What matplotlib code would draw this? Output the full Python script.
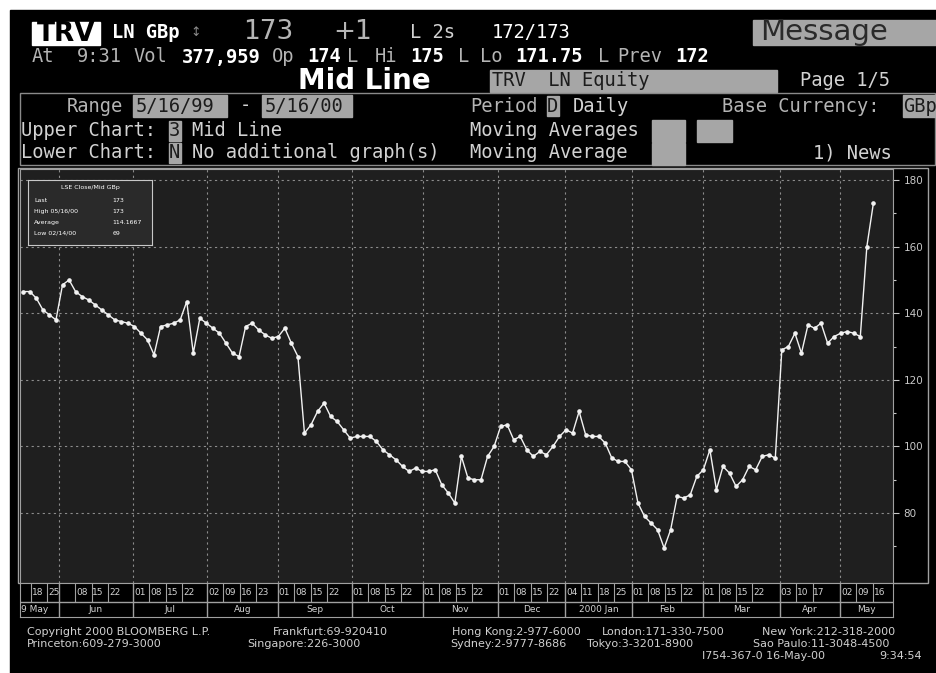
import numpy as np
import matplotlib
matplotlib.use('Agg')
import matplotlib.pyplot as plt
from matplotlib.patches import Rectangle

# TRV LN mid price (GBp), read every second trading day, 17-May-99 .. 16-May-00
trade_day = np.arange(1, 262, 2)
mid_price = [
    146.5, 146.5, 144.5, 141, 139.5, 138, 148.5, 150, 146.5, 145,
    144, 142.5, 141, 139.5, 138, 137.5, 137, 136, 134, 132,
    127.5, 136, 136.5, 137, 138, 143.5, 128, 138.5, 137, 135.5,
    134, 131, 128, 127, 136, 137, 135, 133.5, 132.5, 133,
    135.5, 131, 127, 104, 106.5, 110.5, 113, 109, 107.5, 105,
    102.5, 103, 103, 103, 101.5, 99, 97.5, 96, 94, 92.5,
    93.5, 92.5, 92.5, 93, 88.5, 86, 83, 97, 90.5, 90,
    90, 97, 100, 106, 106.5, 102, 103, 99, 97, 98.5,
    97.5, 100, 103, 105, 104, 110.5, 103.5, 103, 103, 101,
    96.5, 95.5, 95.5, 93, 83, 79, 77, 75, 69.5, 75,
    85, 84.5, 85.5, 91, 93, 99, 87, 94, 92, 88,
    90, 94, 93, 97, 97.5, 96.5, 129, 130, 134, 128,
    136.5, 135.5, 137, 131, 133, 134, 134.5, 134, 133, 160,
    173,
]

# month boundaries on the trading-day axis, as drawn on the terminal
month_start = [11.9, 34.6, 57.2, 78.9, 101.5, 123.2, 146.2, 166.7, 187.2, 208.9, 232.4, 250.8]
month_names = ['Jun', 'Jul', 'Aug', 'Sep', 'Oct', 'Nov', 'Dec', '2000 Jan', 'Feb', 'Mar', 'Apr', 'May']
week_labels = [['', '08', '15', '22'], ['01', '08', '15', '22'], ['02', '09', '16', '23'],
               ['01', '08', '15', '22'], ['01', '08', '15', '22'], ['01', '08', '15', '22'],
               ['01', '08', '15', '22'], ['04', '11', '18', '25'], ['01', '08', '15', '22'],
               ['01', '08', '15', '22'], ['03', '10', '17'], ['02', '09', '16']]
may99_start = -1.6
may99_weeks = ['', '18', '25']

y_ticks = [80, 100, 120, 140, 160, 180]

legend_rows = ['Last', 'High 05/16/00', 'Average', 'Low 02/14/00']
legend_values = ['173', '173', '114.1667', '69']

W, H = 937, 673
MONO = 'DejaVu Sans Mono'
GREY_BOX = '#a6a6a6'
DARK = '#1c1c1c'
LIGHT = '#d2d2d2'
MID = '#b4b4b4'


def px(x0, y0, x1, y1):
    return [x0 / W, 1 - y1 / H, (x1 - x0) / W, (y1 - y0) / H]


fig = plt.figure(figsize=(W / 100, H / 100), dpi=100, facecolor='white')

bg = fig.add_axes([0, 0, 1, 1])
bg.set_xlim(0, W)
bg.set_ylim(H, 0)
bg.axis('off')
bg.add_patch(Rectangle((10, 10), W - 10, H - 10, color='black'))


def t(x, y, s, size=13.5, color=LIGHT, family=MONO, weight='normal', ha='left'):
    bg.text(x, y, s, fontsize=size, color=color, family=family, weight=weight,
            ha=ha, va='center')


def box(x, y, w, h, color=GREY_BOX):
    bg.add_patch(Rectangle((x, y), w, h, color=color))


# header line 1
box(32, 22, 68, 23, 'white')
t(66, 34, 'TRV', 19, 'black', 'DejaVu Sans', 'bold', 'center')
t(112, 33, 'LN GBp', 13.5, 'white', weight='bold')
t(190, 33, '↕', 9, '#8c8c8c', 'DejaVu Sans')
t(243, 32, '173', 19, '#b5b5b5', 'DejaVu Sans')
t(333, 32, '+1', 19, '#b5b5b5', 'DejaVu Sans')
t(410, 33, 'L 2s', 13.5, LIGHT)
t(492, 33, '172/173', 13.5, 'white')
box(753, 20, 184, 25)
t(760, 32, 'Message', 21, '#2a2a2a', 'DejaVu Sans')

# header line 2
for s, x, c, w in [('At', 32, MID, 'normal'), ('9:31', 77, MID, 'normal'), ('Vol', 133, MID, 'normal'),
                   ('377,959', 182, 'white', 'bold'), ('Op', 272, MID, 'normal'),
                   ('174', 307, 'white', 'bold'), ('L', 347, MID, 'normal'), ('Hi', 375, MID, 'normal'),
                   ('175', 410, 'white', 'bold'), ('L', 458, MID, 'normal'), ('Lo', 480, MID, 'normal'),
                   ('171.75', 515, 'white', 'bold'), ('L', 598, MID, 'normal'),
                   ('Prev', 617, MID, 'normal'), ('172', 675, 'white', 'bold')]:
    t(x, 57, s, 13.5, c, weight=w)

# header line 3
t(298, 81, 'Mid Line', 20, 'white', 'DejaVu Sans', 'bold')
box(490, 70, 287, 22)
t(492, 81, 'TRV  LN Equity', 13.5, DARK)
t(800, 81, 'Page 1/5', 13.5, LIGHT)

# settings block
bg.add_patch(Rectangle((20, 93), 915, 72, fill=False, ec='#8a8a8a', lw=1))
t(67, 106, 'Range', 13.5, MID)
box(133, 95, 94, 22)
t(136, 106, '5/16/99', 13.5, DARK)
t(240, 106, '-', 13.5, LIGHT)
box(262, 95, 90, 22)
t(265, 106, '5/16/00', 13.5, DARK)
t(470, 106, 'Period', 13.5, MID)
box(547, 96, 12, 20)
t(547, 106, 'D', 13.5, DARK)
t(573, 106, 'Daily', 13.5, LIGHT)
t(722, 106, 'Base Currency:', 13.5, MID)
box(903, 95, 34, 22)
t(903, 106, 'GBp', 13.5, DARK)

t(21, 131, 'Upper Chart:', 13.5, LIGHT)
box(169, 121, 12, 20)
t(169, 131, '3', 13.5, DARK)
t(192, 131, 'Mid Line', 13.5, LIGHT)
t(470, 131, 'Moving Averages', 13.5, LIGHT)
box(652, 120, 33, 22)
box(697, 120, 35, 22)

t(21, 153, 'Lower Chart:', 13.5, LIGHT)
box(169, 143, 12, 20)
t(169, 153, 'N', 13.5, DARK)
t(192, 153, 'No additional graph(s)', 13.5, LIGHT)
t(470, 153, 'Moving Average', 13.5, LIGHT)
box(652, 143, 33, 22)
t(813, 153, '1) News', 13.5, LIGHT)

# chart frame incl. right label column
bg.add_patch(Rectangle((18, 168), 910, 415, fill=False, ec='#a0a0a0', lw=1))

# footer
for s, x, y in [('Copyright 2000 BLOOMBERG L.P.', 27, 632), ('Frankfurt:69-920410', 273, 632),
                ('Hong Kong:2-977-6000', 452, 632), ('London:171-330-7500', 602, 632),
                ('New York:212-318-2000', 762, 632), ('Princeton:609-279-3000', 27, 644),
                ('Singapore:226-3000', 247, 644), ('Sydney:2-9777-8686', 450, 644),
                ('Tokyo:3-3201-8900', 587, 644), ('Sao Paulo:11-3048-4500', 753, 644),
                ('I754-367-0 16-May-00', 702, 656)]:
    t(x, y, s, 8, '#d0d0d0', 'DejaVu Sans')
t(922, 656, '9:34:54', 8, '#d0d0d0', 'DejaVu Sans', ha='right')

# price chart
ax = fig.add_axes(px(20, 169, 893, 583))
ax.set_facecolor('#1f1f1f')
for v in y_ticks:
    ax.axhline(v, color='#8c8c8c', lw=0.8, ls=(0, (2, 3)), zorder=1)
for s in month_start:
    ax.axvline(s, color='#8c8c8c', lw=0.8, ls=(0, (2, 3)), zorder=1)
ax.plot(trade_day, mid_price, color='#f2f2f2', lw=1.0, marker='o', ms=2.3, zorder=3)
ax.set_xlim(0, 267)
ax.set_ylim(59, 183.3)
ax.set_xticks([])
ax.yaxis.tick_right()
ax.set_yticks(y_ticks)
ax.set_yticks([v - 10 for v in y_ticks], minor=True)
ax.tick_params(axis='y', which='major', colors='#c8c8c8', labelsize=7.5, length=4, width=0.8)
ax.tick_params(axis='y', which='minor', colors='#c8c8c8', length=2, width=0.8)
for sp in ax.spines.values():
    sp.set_color('#a0a0a0')

# legend box
lax = fig.add_axes(px(28, 180, 152, 245))
lax.set_facecolor('#2a2a2a')
lax.set_xticks([])
lax.set_yticks([])
for sp in lax.spines.values():
    sp.set_color('#c8c8c8')
    sp.set_linewidth(0.8)
lax.text(0.5, 0.88, 'LSE Close/Mid GBp', fontsize=4.5, color='white', ha='center', va='center',
         transform=lax.transAxes)
for i, (lab, val) in enumerate(zip(legend_rows, legend_values)):
    yy = 0.69 - i * 0.17
    lax.text(0.05, yy, lab, fontsize=4.5, color='white', va='center', transform=lax.transAxes)
    lax.text(0.68, yy, val, fontsize=4.5, color='white', va='center', transform=lax.transAxes)

# date strip under chart
sx = fig.add_axes(px(20, 583, 893, 617))
sx.set_facecolor('black')
sx.set_xlim(0, 267)
sx.set_ylim(0, 34)
sx.set_xticks([])
sx.set_yticks([])
for sp in sx.spines.values():
    sp.set_color('#a0a0a0')
sx.axhline(15, color='#a0a0a0', lw=1)
sx.vlines(month_start, 0, 34, color='#a0a0a0', lw=1)
for s, labs in zip([may99_start] + month_start, [may99_weeks] + week_labels):
    for k, lab in enumerate(labs):
        if k > 0:
            sx.vlines(s + 5 * k, 15, 34, color='#a0a0a0', lw=0.8)
        if lab:
            sx.text(s + 5 * k + 2.0, 24.5, lab, fontsize=6.5, color=LIGHT, ha='center', va='center')
bounds = month_start + [267]
for i, name in enumerate(month_names):
    sx.text((bounds[i] + bounds[i + 1]) / 2, 7.5, name, fontsize=6.5, color=LIGHT,
            ha='center', va='center')
sx.text(0.3, 7.5, '9 May', fontsize=6.5, color=LIGHT, ha='left', va='center')

fig.savefig('out.png', dpi=100, facecolor=fig.get_facecolor())
